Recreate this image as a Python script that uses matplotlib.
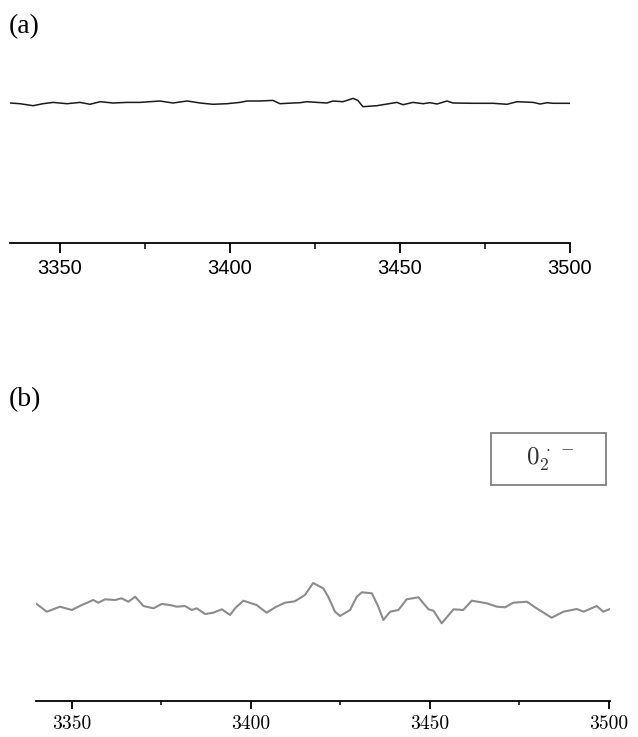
import matplotlib
matplotlib.use('Agg')
import matplotlib.pyplot as plt
from matplotlib.patches import Rectangle
from matplotlib.ticker import MultipleLocator

plt.rcParams['mathtext.fontset'] = 'cm'

# panel (a): field (G) and signal (arbitrary units)
field_a = [3335.3, 3338.2, 3342.1, 3345.0, 3348.0, 3352.1, 3355.9, 3358.8, 3361.8,
           3365.6, 3369.7, 3373.5, 3379.4, 3383.2, 3387.4, 3391.2, 3395.0, 3399.1,
           3402.9, 3405.0, 3408.8, 3412.6, 3414.7, 3418.5, 3420.6, 3422.6, 3425.6,
           3428.5, 3430.3, 3433.2, 3436.2, 3437.6, 3439.1, 3443.2, 3449.1, 3450.9,
           3453.8, 3456.8, 3458.8, 3460.9, 3463.8, 3465.6, 3471.5, 3477.4, 3481.5,
           3484.4, 3489.2, 3491.2, 3493.3, 3495.0, 3500.0]
signal_a = [0.0, -0.7, -2.7, -0.7, 0.6, -0.7, 0.6, -1.3, 1.3,
            0.0, 0.6, 0.6, 2.0, 0.0, 2.0, 0.0, -1.3, -0.7,
            0.6, 2.0, 2.0, 2.6, -0.7, 0.0, 0.3, 1.3, 0.6,
            0.0, 2.0, 1.3, 4.6, 2.6, -3.7, -2.7, 0.6, -1.7,
            0.6, -0.7, 0.3, -1.0, 2.0, 0.0, -0.3, -0.3, -1.3,
            1.3, 0.6, -1.0, 0.3, -0.3, -0.3]

# panel (b)
field_b = [3340.2, 3343.0, 3346.7, 3350.0, 3352.8, 3356.0, 3357.4, 3359.3, 3362.1,
           3363.9, 3365.8, 3367.7, 3370.0, 3372.8, 3375.1, 3377.4, 3379.3, 3381.6,
           3383.5, 3384.9, 3387.2, 3389.5, 3391.9, 3394.2, 3395.6, 3397.9, 3401.6,
           3404.4, 3406.8, 3409.5, 3412.3, 3415.1, 3417.4, 3420.2, 3421.6, 3423.5,
           3424.9, 3427.7, 3429.6, 3431.0, 3433.8, 3435.6, 3437.0, 3438.9, 3441.2,
           3443.5, 3446.8, 3449.6, 3451.0, 3453.3, 3456.6, 3459.3, 3461.7, 3465.9,
           3468.7, 3471.0, 3473.3, 3477.1, 3479.8, 3484.0, 3487.3, 3491.0, 3492.9,
           3496.6, 3498.4, 3500.3]
signal_b = [1.0, -6.7, -1.7, -5.0, 0.0, 5.0, 2.3, 5.7, 5.0,
            6.7, 3.3, 8.3, -1.0, -3.3, 1.0, 0.0, -1.7, -1.0,
            -5.0, -3.3, -9.0, -7.7, -4.3, -10.0, -3.3, 4.3, 0.0,
            -7.7, -2.3, 2.3, 3.7, 10.0, 22.0, 16.7, 8.3, -6.7,
            -11.0, -5.0, 8.3, 12.7, 11.7, -1.7, -15.0, -6.7, -5.0,
            5.7, 7.7, -4.3, -5.7, -18.3, -4.3, -5.0, 4.3, 1.7,
            -1.7, -2.3, 2.3, 3.3, -3.3, -12.7, -6.7, -4.0, -6.7,
            -1.0, -6.7, -4.0]

xticks = [3350, 3400, 3450, 3500]
legend_label = r'$0_2^{\,\cdot\;-}$'

fig = plt.figure(figsize=(6.38, 7.37), dpi=100)


def style_axis(ax, fontfamily, fontsize, major_len, minor_len):
    for s in ['top', 'right', 'left']:
        ax.spines[s].set_visible(False)
    ax.spines['bottom'].set_linewidth(1.3)
    ax.set_yticks([])
    ax.set_xticks(xticks)
    ax.xaxis.set_minor_locator(MultipleLocator(25))
    ax.tick_params(axis='x', which='major', direction='out', length=major_len, width=1.3,
                   pad=4)
    ax.tick_params(axis='x', which='minor', direction='out', length=minor_len, width=1.1)
    for lab in ax.get_xticklabels():
        lab.set_fontfamily(fontfamily)
        lab.set_fontsize(fontsize)


# (a)
ax1 = fig.add_axes([10 / 638, 1 - 243 / 737, 560 / 638, 203 / 737])
ax1.plot(field_a, signal_a, color='#1a1a1a', lw=1.1)
ax1.set_xlim(3335.3, 3500)
ax1.set_ylim(-140, 63)
style_axis(ax1, 'Liberation Sans', 14.5, 7.5, 4)

# (b)
ax2 = fig.add_axes([36 / 638, 1 - 701 / 737, 574 / 638, 291 / 737])
ax2.plot(field_b, signal_b, color='#8c8c8c', lw=1.5, solid_joinstyle='round')
ax2.set_xlim(3340, 3500.3)
ax2.set_ylim(-96, 195)
style_axis(ax2, 'cmr10', 14, 6, 3)

fig.text(9 / 638, 1 - 27 / 737, '(a)', fontsize=20, family='Liberation Serif',
         ha='left', va='center')
fig.text(9 / 638, 1 - 400 / 737, '(b)', fontsize=20, family='Liberation Serif',
         ha='left', va='center')

# legend box
fig.patches.append(Rectangle((491 / 638, 1 - 485 / 737), 115 / 638, 52 / 737,
                             transform=fig.transFigure, fill=False,
                             edgecolor='#808080', lw=1.3))
fig.text(550 / 638, 1 - 459 / 737, legend_label, fontsize=18, ha='center', va='center',
         color='#333333')

fig.savefig('out.png', dpi=100)
